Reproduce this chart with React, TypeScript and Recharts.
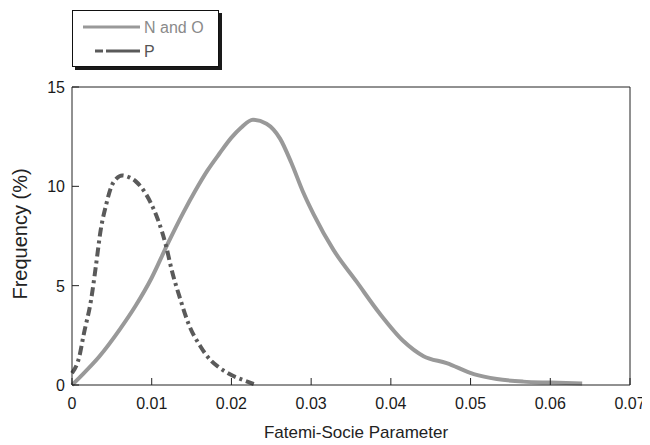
import React from 'react';
import { LineChart, Line, XAxis, YAxis, Legend, Label } from 'recharts';

const xTicks = [0, 0.01, 0.02, 0.03, 0.04, 0.05, 0.06, 0.07];
const yTicks = [0, 5, 10, 15];
const seriesNames = ['N and O', 'P'];
const xTitle = 'Fatemi-Socie Parameter';
const yTitle = 'Frequency (%)';

// N and O (solid grey)
const noX = [0, 0.001, 0.0034, 0.006, 0.008, 0.010, 0.012, 0.014, 0.0155, 0.017, 0.0185, 0.020, 0.0212, 0.0227, 0.0244, 0.0261, 0.0275, 0.029, 0.0303, 0.0328, 0.0357, 0.0386, 0.0416, 0.0441, 0.047, 0.0504, 0.0533, 0.0566, 0.060, 0.064];
const noY = [0, 0.4, 1.42, 2.8, 4.0, 5.4, 7.1, 8.7, 9.8, 10.8, 11.65, 12.45, 12.95, 13.35, 13.15, 12.4, 11.2, 9.7, 8.6, 6.8, 5.2, 3.6, 2.2, 1.45, 1.1, 0.55, 0.3, 0.17, 0.12, 0.07];

// P (dash-dot dark grey)
const pX = [0, 0.0009, 0.0015, 0.0024, 0.003, 0.0036, 0.0043, 0.0049, 0.0056, 0.0063, 0.0072, 0.008, 0.0087, 0.0099, 0.0108, 0.0118, 0.0125, 0.0136, 0.0146, 0.0161, 0.0175, 0.0184, 0.020, 0.0215, 0.0228];
const pY = [0.6, 1.4, 2.6, 4.3, 6.0, 7.8, 9.1, 9.95, 10.4, 10.55, 10.45, 10.25, 9.95, 9.15, 8.3, 7.0, 5.8, 4.3, 3.1, 1.95, 1.2, 0.9, 0.5, 0.25, 0.05];

const noData = noX.map((x, i) => ({ x, y: noY[i] }));
const pData = pX.map((x, i) => ({ x, y: pY[i] }));

const FONT = '"Liberation Sans", Arial, Helvetica, sans-serif';
const TICK_LEN = 7;
const AXIS_COLOR = '#222';
const SOLID_COLOR = '#999999';
const DASH_COLOR = '#5a5a5a';
const DASH = '9 4 3 4';

function BottomTick(props: any) {
  const { x, y, payload } = props;
  const v = payload.value;
  const label = v === 0 ? '0' : v.toFixed(2);
  return (
    <g>
      <line x1={x} x2={x} y1={y} y2={y - TICK_LEN} stroke={AXIS_COLOR} strokeWidth={1} />
      <text x={x} y={y + 24} textAnchor="middle" fontSize={16} fill="#1a1a1a" fontFamily={FONT}>{label}</text>
    </g>
  );
}

function TopTick(props: any) {
  const { x, y } = props;
  return <line x1={x} x2={x} y1={y} y2={y + TICK_LEN} stroke={AXIS_COLOR} strokeWidth={1} />;
}

function LeftTick(props: any) {
  const { x, y, payload } = props;
  return (
    <g>
      <line x1={x} x2={x + TICK_LEN} y1={y} y2={y} stroke={AXIS_COLOR} strokeWidth={1} />
      <text x={x - 7} y={y + 6} textAnchor="end" fontSize={16} fill="#1a1a1a" fontFamily={FONT}>{payload.value}</text>
    </g>
  );
}

function RightTick(props: any) {
  const { x, y } = props;
  return <line x1={x} x2={x - TICK_LEN} y1={y} y2={y} stroke={AXIS_COLOR} strokeWidth={1} />;
}

function LegendBox() {
  return (
    <div style={{ width: 147, height: 57, border: '1px solid #111', boxShadow: '3px 3px 0 #1a1a1a', background: '#fff', boxSizing: 'border-box' }}>
      <svg width={145} height={55} style={{ display: 'block' }}>
        <line x1={10} x2={67} y1={16} y2={16} stroke={SOLID_COLOR} strokeWidth={3} />
        <text x={71} y={22} fontSize={16} fill="#8a8a8a" fontFamily={FONT}>{seriesNames[0]}</text>
        <line x1={22} x2={67} y1={40} y2={40} stroke={DASH_COLOR} strokeWidth={3} strokeDasharray="8 3 30 0" />
        <text x={71} y={46} fontSize={16} fill="#555" fontFamily={FONT}>{seriesNames[1]}</text>
      </svg>
    </div>
  );
}

export default function App() {
  return (
    <div style={{ width: 642, height: 437, fontFamily: FONT, background: '#fff' }}>
      <LineChart width={642} height={437} margin={{ top: 78, right: 19, bottom: 59, left: 63 }}>
        <XAxis
          dataKey="x"
          type="number"
          domain={[0, 0.07]}
          ticks={xTicks}
          height={1}
          tickSize={0}
          tickMargin={0}
          tickLine={false}
          axisLine={{ stroke: AXIS_COLOR, strokeWidth: 1 }}
          tick={<BottomTick />}
          interval={0}
        >
          <Label
            content={() => (
              <text x={348} y={430} textAnchor="middle" fontSize={17} fill="#222" fontFamily={FONT}>{xTitle}</text>
            )}
          />
        </XAxis>
        <XAxis
          xAxisId="t"
          orientation="top"
          dataKey="x"
          type="number"
          domain={[0, 0.07]}
          ticks={xTicks}
          height={1}
          tickSize={0}
          tickMargin={0}
          tickLine={false}
          axisLine={{ stroke: AXIS_COLOR, strokeWidth: 1 }}
          tick={<TopTick />}
          interval={0}
        />
        <YAxis
          type="number"
          domain={[0, 15]}
          ticks={yTicks}
          width={1}
          tickSize={0}
          tickMargin={0}
          tickLine={false}
          axisLine={{ stroke: AXIS_COLOR, strokeWidth: 1 }}
          tick={<LeftTick />}
          interval={0}
        >
          <Label
            content={() => (
              <text transform="translate(19,226) rotate(-90)" textAnchor="middle" fontSize={20} fill="#222" fontFamily={FONT}>{yTitle}</text>
            )}
          />
        </YAxis>
        <YAxis
          yAxisId="r"
          orientation="right"
          type="number"
          domain={[0, 15]}
          ticks={yTicks}
          width={1}
          tickSize={0}
          tickMargin={0}
          tickLine={false}
          axisLine={{ stroke: AXIS_COLOR, strokeWidth: 1 }}
          tick={<RightTick />}
          interval={0}
        />
        <Legend
          verticalAlign="middle"
          align="center"
          layout="horizontal"
          wrapperStyle={{ position: 'absolute', left: 64, top: 2, width: 'auto', height: 'auto' }}
          content={() => <LegendBox />}
        />
        <Line
          data={noData}
          dataKey="y"
          name={seriesNames[0]}
          type="monotone"
          stroke={SOLID_COLOR}
          strokeWidth={4}
          dot={false}
          activeDot={false}
          isAnimationActive={false}
        />
        <Line
          data={pData}
          dataKey="y"
          name={seriesNames[1]}
          type="monotone"
          stroke={DASH_COLOR}
          strokeWidth={4}
          strokeDasharray={DASH}
          dot={false}
          activeDot={false}
          isAnimationActive={false}
        />
      </LineChart>
    </div>
  );
}
